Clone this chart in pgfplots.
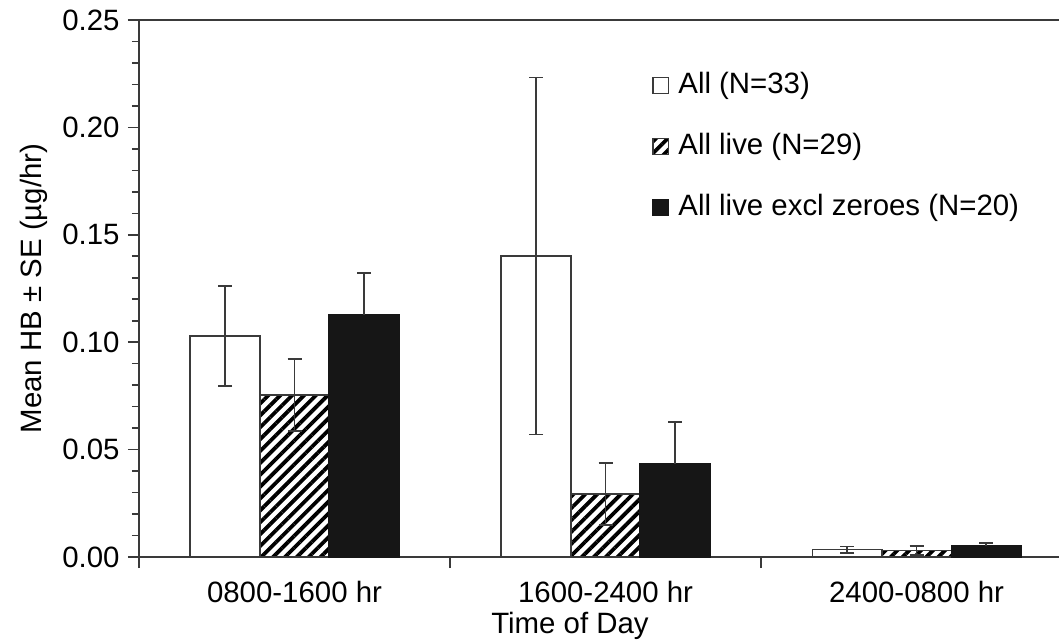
\documentclass[border=0pt]{standalone}
\usepackage{fontspec}
\setmainfont{Liberation Sans}
\usepackage{pgfplots}
\pgfplotsset{compat=1.18}
\usetikzlibrary{patterns.meta}
\definecolor{edge}{HTML}{3A3A3A}
\definecolor{barblack}{HTML}{161616}
\newcommand{\fsz}{\fontsize{14.7bp}{17bp}\selectfont}
\pgfplotsset{sqlegend/.style={legend image code/.code={\draw[##1,line width=0.7bp] (0bp,-3.9bp) rectangle (7.8bp,3.9bp);}}}

\begin{document}
\begin{tikzpicture}
\begin{axis}[
  scale only axis, width=460bp, height=268.5bp,
  xmin=-0.5, xmax=2.458, ymin=0, ymax=0.25,
  axis x line*=bottom, axis y line*=left,
  axis line style={edge, line width=0.8bp},
  ybar=0pt, bar width=34.75bp,
  xtick={-0.5,0.5,1.5}, xticklabels={},
  extra x ticks={0,1,2},
  extra x tick labels={0800-1600 hr,1600-2400 hr,2400-0800 hr},
  extra x tick style={major tick length=0pt},
  ytick={0,0.05,0.1,0.15,0.2,0.25}, minor y tick num=4,
  tick align=outside, major tick length=5.5bp, minor tick length=3.5bp,
  tick style={edge, line width=0.8bp},
  xticklabel style={font=\fsz, inner sep=0pt, anchor=center, yshift=-17.5bp},
  yticklabel style={font=\fsz, inner sep=0pt, anchor=east, xshift=-4bp,
    /pgf/number format/.cd, fixed, fixed zerofill, precision=2, assume math mode=true},
  xlabel={Time of Day},
  ylabel={Mean HB ± SE (µg/hr)},
  every axis x label/.style={at={(axis description cs:0.4685,-0.128)}, anchor=center, font=\fsz},
  every axis y label/.style={at={(axis description cs:-0.114,0.5)}, rotate=90, anchor=center, font=\fsz},
  legend style={draw=none, fill=none, font=\fsz, at={(axis description cs:0.5576,0.905)},
    anchor=north west, inner sep=0pt, row sep=16.5bp,
    nodes={inner sep=0pt, text height=11bp, text depth=3bp},
    /tikz/every odd column/.append style={column sep=4.5bp}},
  legend cell align=left,
  error bars/y explicit,
]
\coordinate (nw) at (rel axis cs:0,1);
\coordinate (ne) at (rel axis cs:1,1);
\coordinate (sw) at (rel axis cs:0,0);

\addplot[fill=white, draw=edge, line width=0.8bp, sqlegend,
  error bars/y dir=both,
  error bars/error bar style={edge, line width=0.8bp},
  error bars/error mark options={rotate=90, mark size=3.5bp, edge, line width=0.8bp}]
  coordinates {(0,0.1029) +- (0,0.0232) (1,0.1401) +- (0,0.0831) (2,0.0034) +- (0,0.0014)};
\addlegendentry{All (N=33)}

\addplot[draw=edge, line width=0.8bp, pattern={Lines[angle=45, distance=4.2bp, line width=1.9bp]}, pattern color=black, sqlegend,
  error bars/y dir=both,
  error bars/error bar style={edge, line width=0.8bp},
  error bars/error mark options={rotate=90, mark size=3.5bp, edge, line width=0.8bp}]
  coordinates {(0,0.0754) +- (0,0.0168) (1,0.0293) +- (0,0.0145) (2,0.0030) +- (0,0.0022)};
\addlegendentry{All live (N=29)}

\addplot[fill=barblack, draw=barblack, line width=0.8bp, sqlegend,
  error bars/y dir=plus,
  error bars/error bar style={edge, line width=0.8bp},
  error bars/error mark options={rotate=90, mark size=3.5bp, edge, line width=0.8bp}]
  coordinates {(0,0.1127) +- (0,0.0195) (1,0.0433) +- (0,0.0195) (2,0.0050) +- (0,0.0016)};
\addlegendentry{All live excl zeroes (N=20)}
\end{axis}
\draw[edge, line width=0.8bp] ([xshift=-5.5bp]nw) -- (ne);
\pgfresetboundingbox
\path ([shift={(-69.5bp,-41.5bp)}]sw) rectangle ([shift={(0bp,10bp)}]ne);
\end{tikzpicture}
\end{document}
